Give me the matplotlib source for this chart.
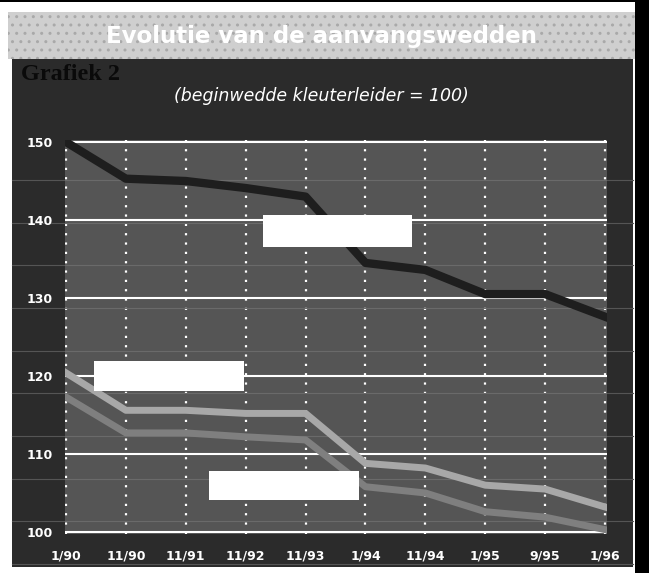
import matplotlib
matplotlib.use("Agg")
import matplotlib.pyplot as plt
from matplotlib.patches import Rectangle
from matplotlib.lines import Line2D

# --------------------------------------------------
# Data (index 1/90 = 100 basis)
# --------------------------------------------------
periods = ["1/90", "11/90", "11/91", "11/92", "11/93",
           "1/94", "11/94", "1/95", "9/95", "1/96"]
series_dark = [150.0, 145.3, 145.0, 144.1, 143.0, 134.5, 133.6, 130.5, 130.5, 127.6]
series_light = [120.4, 115.6, 115.6, 115.2, 115.2, 108.8, 108.2, 106.0, 105.5, 103.2]
series_mid = [117.3, 112.7, 112.7, 112.2, 111.8, 105.8, 105.0, 102.6, 101.9, 100.3]
y_ticks = [100, 110, 120, 130, 140, 150]

title = "Evolutie van de aanvangswedden"
label = "Grafiek 2"
subtitle = "(beginwedde kleuterleider = 100)"

W, H = 649, 573


def fx(px):
    return px / W


def fy(py):
    return 1 - py / H


def rect(x, y, w, h, **kw):
    # pixel box (top-left origin) -> figure fraction rectangle
    return Rectangle((fx(x), fy(y + h)), w / W, h / H, transform=fig.transFigure, **kw)


fig = plt.figure(figsize=(W / 100, H / 100), dpi=100)
fig.patch.set_facecolor("white")

# --------------------------------------------------
# Frame: banner, dark panel, black strip
# --------------------------------------------------
fig.add_artist(rect(0, 0, W, 2, facecolor="black", edgecolor="none", zorder=-3))
fig.add_artist(rect(8, 12, 632, 47, facecolor="#cfcfcf", edgecolor="#a9a9a9",
                    hatch="..", linewidth=0, zorder=-3))
fig.add_artist(rect(12, 59, 621, 508, facecolor="#2b2b2b", edgecolor="none", zorder=-3))
fig.add_artist(rect(635, 0, 14, H, facecolor="black", edgecolor="none", zorder=-3))

# faint scan lines across the panel
scan_y = [180 + 42.67 * k for k in range(10)]
for sy in scan_y:
    fig.add_artist(Line2D([fx(12), fx(633)], [fy(sy), fy(sy)], transform=fig.transFigure,
                          color="#555555", linewidth=0.8, zorder=-2))

fig.text(fx(321), fy(36), title, color="white", fontsize=16.5, fontweight="bold",
         ha="center", va="center")
fig.text(fx(21), fy(75), label, color="#0a0a0a", fontsize=17.5, fontweight="bold",
         family="Liberation Serif", ha="left", va="center")
fig.text(fx(321), fy(96), subtitle, color="white", fontsize=12.5, style="italic",
         ha="center", va="center")

# --------------------------------------------------
# Plot area
# --------------------------------------------------
ax = fig.add_axes([fx(65), fy(534), 542 / W, 394 / H])
ax.set_facecolor("#555555")
for s in ax.spines.values():
    s.set_visible(False)

x = list(range(len(periods)))
ax.set_xlim(-0.017, 9.033)
ax.set_ylim(99.74, 150.26)

for v in y_ticks:
    ax.axhline(v, color="white", linewidth=1.5, zorder=1)
for xi in x:
    ax.axvline(xi, color="white", linewidth=1.6, linestyle=(0, (1, 3.2)), zorder=1)

for sy in scan_y:
    ax.add_line(Line2D([fx(12), fx(633)], [fy(sy), fy(sy)], transform=fig.transFigure,
                       color="#6a6a6a", linewidth=0.8, zorder=1.5))

ax.plot(x, series_light, color="#a8a8a8", linewidth=5, solid_capstyle="projecting",
        solid_joinstyle="round", zorder=3)
ax.plot(x, series_mid, color="#7f7f7f", linewidth=5, solid_capstyle="projecting",
        solid_joinstyle="round", zorder=3)
ax.plot(x, series_dark, color="#1e1e1e", linewidth=6, solid_capstyle="projecting",
        solid_joinstyle="round", zorder=4)

ax.set_xticks(x)
ax.set_xticklabels(periods)
ax.set_yticks(y_ticks)
ax.tick_params(length=0, colors="white", labelsize=9)
ax.tick_params(axis="x", pad=11)
ax.tick_params(axis="y", pad=9)
for t in ax.get_xticklabels() + ax.get_yticklabels():
    t.set_fontweight("bold")

# white boxes over the original series labels
for bx, by, bw, bh in [(263, 215, 149, 32), (94, 361, 150, 30), (209, 471, 150, 29)]:
    fig.add_artist(rect(bx, by, bw, bh, facecolor="white", edgecolor="none", zorder=5))

plt.savefig("out.png", dpi=100)
